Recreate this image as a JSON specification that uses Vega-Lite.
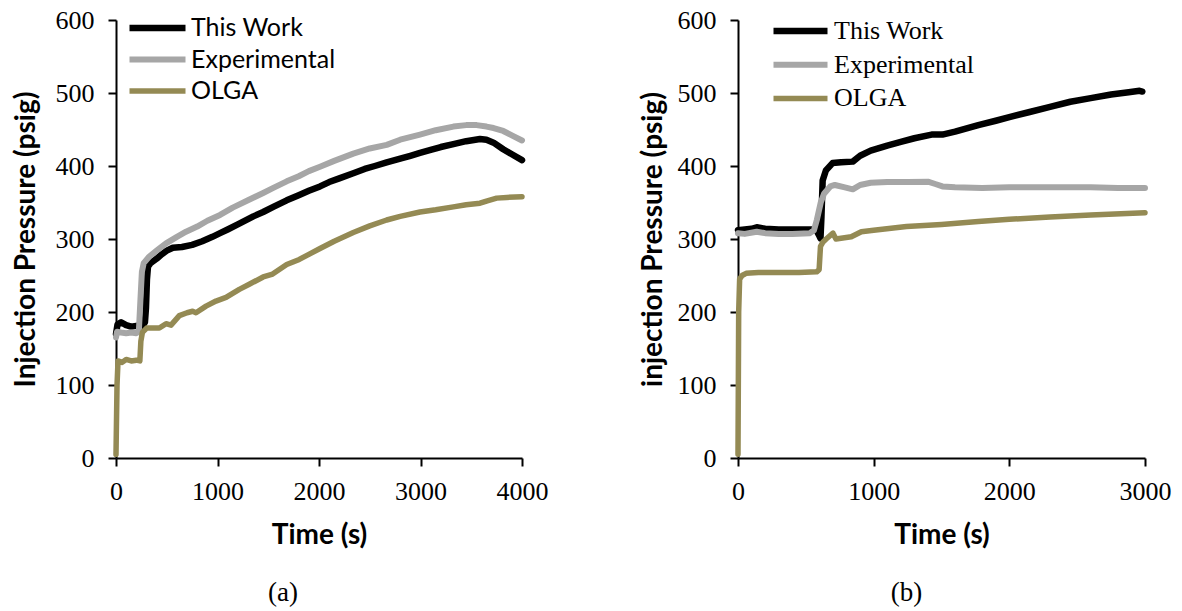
{
  "$schema": "https://vega.github.io/schema/vega-lite/v6.json",
  "background": "white",
  "padding": {"left": 12, "top": 7, "right": 5, "bottom": 5},
  "spacing": 216,
  "bounds": "flush",
  "config": {
    "view": {"stroke": null},
    "axis": {"domainColor": "black", "domainWidth": 2, "tickColor": "black", "tickWidth": 2, "tickSize": 8, "grid": false, "labelFont": "Liberation Serif", "labelFontSize": 26, "labelColor": "black", "titleFont": "Lato", "titleFontWeight": "bold", "titleFontSize": 28, "titleColor": "black", "labelOverlap": false, "format": "d"},
    "axisX": {"labelPadding": 12, "titlePadding": 17, "labelFlush": false},
    "axisY": {"labelPadding": 14, "titlePadding": 10},
    "title": {"font": "Liberation Serif", "fontSize": 27, "fontWeight": "normal", "color": "black"}
  },
  "resolve": {"scale": {"color": "independent", "strokeWidth": "independent"}, "legend": {"color": "independent"}},
  "datasets": {
    "a": [
      {"s":"This Work","t":0,"p":170},{"s":"This Work","t":15,"p":183},{"s":"This Work","t":50,"p":186},{"s":"This Work","t":100,"p":182},{"s":"This Work","t":150,"p":180},{"s":"This Work","t":200,"p":181},{"s":"This Work","t":260,"p":180},{"s":"This Work","t":285,"p":186},{"s":"This Work","t":295,"p":205},{"s":"This Work","t":305,"p":245},{"s":"This Work","t":315,"p":262},{"s":"This Work","t":340,"p":267},{"s":"This Work","t":400,"p":273},{"s":"This Work","t":450,"p":279},{"s":"This Work","t":500,"p":284},{"s":"This Work","t":560,"p":288},{"s":"This Work","t":650,"p":289},{"s":"This Work","t":750,"p":292},{"s":"This Work","t":850,"p":297},{"s":"This Work","t":950,"p":303},{"s":"This Work","t":1025,"p":308},{"s":"This Work","t":1100,"p":313},{"s":"This Work","t":1200,"p":320},{"s":"This Work","t":1353,"p":331},{"s":"This Work","t":1450,"p":337},{"s":"This Work","t":1550,"p":344},{"s":"This Work","t":1682,"p":353},{"s":"This Work","t":1800,"p":360},{"s":"This Work","t":1900,"p":366},{"s":"This Work","t":2010,"p":372},{"s":"This Work","t":2100,"p":378},{"s":"This Work","t":2200,"p":383},{"s":"This Work","t":2338,"p":390},{"s":"This Work","t":2450,"p":396},{"s":"This Work","t":2550,"p":400},{"s":"This Work","t":2667,"p":405},{"s":"This Work","t":2800,"p":410},{"s":"This Work","t":2900,"p":414},{"s":"This Work","t":2995,"p":418},{"s":"This Work","t":3100,"p":422},{"s":"This Work","t":3200,"p":426},{"s":"This Work","t":3324,"p":430},{"s":"This Work","t":3450,"p":434},{"s":"This Work","t":3586,"p":437},{"s":"This Work","t":3650,"p":436},{"s":"This Work","t":3720,"p":432},{"s":"This Work","t":3815,"p":423},{"s":"This Work","t":3900,"p":416},{"s":"This Work","t":4000,"p":408},
      {"s":"Experimental","t":0,"p":165},{"s":"Experimental","t":10,"p":173},{"s":"Experimental","t":50,"p":172},{"s":"Experimental","t":100,"p":171},{"s":"Experimental","t":150,"p":172},{"s":"Experimental","t":200,"p":171},{"s":"Experimental","t":225,"p":173},{"s":"Experimental","t":240,"p":215},{"s":"Experimental","t":255,"p":255},{"s":"Experimental","t":273,"p":267},{"s":"Experimental","t":328,"p":276},{"s":"Experimental","t":400,"p":284},{"s":"Experimental","t":493,"p":294},{"s":"Experimental","t":600,"p":303},{"s":"Experimental","t":690,"p":310},{"s":"Experimental","t":800,"p":317},{"s":"Experimental","t":900,"p":325},{"s":"Experimental","t":1025,"p":333},{"s":"Experimental","t":1150,"p":343},{"s":"Experimental","t":1300,"p":353},{"s":"Experimental","t":1450,"p":363},{"s":"Experimental","t":1550,"p":370},{"s":"Experimental","t":1682,"p":379},{"s":"Experimental","t":1800,"p":386},{"s":"Experimental","t":1900,"p":393},{"s":"Experimental","t":2010,"p":399},{"s":"Experimental","t":2150,"p":407},{"s":"Experimental","t":2338,"p":417},{"s":"Experimental","t":2500,"p":424},{"s":"Experimental","t":2667,"p":429},{"s":"Experimental","t":2800,"p":436},{"s":"Experimental","t":2995,"p":443},{"s":"Experimental","t":3150,"p":449},{"s":"Experimental","t":3324,"p":454},{"s":"Experimental","t":3450,"p":456},{"s":"Experimental","t":3553,"p":456},{"s":"Experimental","t":3650,"p":454},{"s":"Experimental","t":3720,"p":452},{"s":"Experimental","t":3815,"p":448},{"s":"Experimental","t":3900,"p":442},{"s":"Experimental","t":4000,"p":435},
      {"s":"OLGA","t":0,"p":5},{"s":"OLGA","t":10,"p":100},{"s":"OLGA","t":20,"p":133},{"s":"OLGA","t":60,"p":131},{"s":"OLGA","t":100,"p":135},{"s":"OLGA","t":150,"p":133},{"s":"OLGA","t":200,"p":134},{"s":"OLGA","t":235,"p":133},{"s":"OLGA","t":245,"p":160},{"s":"OLGA","t":260,"p":172},{"s":"OLGA","t":302,"p":178},{"s":"OLGA","t":427,"p":178},{"s":"OLGA","t":493,"p":184},{"s":"OLGA","t":542,"p":182},{"s":"OLGA","t":624,"p":195},{"s":"OLGA","t":700,"p":199},{"s":"OLGA","t":755,"p":201},{"s":"OLGA","t":788,"p":199},{"s":"OLGA","t":887,"p":208},{"s":"OLGA","t":985,"p":215},{"s":"OLGA","t":1084,"p":220},{"s":"OLGA","t":1215,"p":231},{"s":"OLGA","t":1313,"p":238},{"s":"OLGA","t":1450,"p":248},{"s":"OLGA","t":1543,"p":252},{"s":"OLGA","t":1682,"p":265},{"s":"OLGA","t":1806,"p":272},{"s":"OLGA","t":1900,"p":279},{"s":"OLGA","t":2010,"p":287},{"s":"OLGA","t":2150,"p":297},{"s":"OLGA","t":2338,"p":309},{"s":"OLGA","t":2500,"p":318},{"s":"OLGA","t":2667,"p":326},{"s":"OLGA","t":2800,"p":331},{"s":"OLGA","t":2995,"p":337},{"s":"OLGA","t":3150,"p":340},{"s":"OLGA","t":3324,"p":344},{"s":"OLGA","t":3450,"p":347},{"s":"OLGA","t":3586,"p":349},{"s":"OLGA","t":3650,"p":352},{"s":"OLGA","t":3750,"p":356},{"s":"OLGA","t":3850,"p":357},{"s":"OLGA","t":4000,"p":358}
    ],
    "b": [
      {"s":"This Work","t":0,"p":312},{"s":"This Work","t":50,"p":313},{"s":"This Work","t":100,"p":314},{"s":"This Work","t":138,"p":316},{"s":"This Work","t":200,"p":314},{"s":"This Work","t":300,"p":313},{"s":"This Work","t":400,"p":313},{"s":"This Work","t":530,"p":313},{"s":"This Work","t":575,"p":313},{"s":"This Work","t":595,"p":306},{"s":"This Work","t":608,"p":301},{"s":"This Work","t":615,"p":330},{"s":"This Work","t":624,"p":380},{"s":"This Work","t":648,"p":394},{"s":"This Work","t":697,"p":404},{"s":"This Work","t":760,"p":405},{"s":"This Work","t":846,"p":406},{"s":"This Work","t":900,"p":414},{"s":"This Work","t":978,"p":421},{"s":"This Work","t":1100,"p":428},{"s":"This Work","t":1200,"p":433},{"s":"This Work","t":1300,"p":438},{"s":"This Work","t":1427,"p":443},{"s":"This Work","t":1507,"p":443},{"s":"This Work","t":1600,"p":447},{"s":"This Work","t":1771,"p":456},{"s":"This Work","t":1900,"p":462},{"s":"This Work","t":2000,"p":467},{"s":"This Work","t":2150,"p":474},{"s":"This Work","t":2300,"p":481},{"s":"This Work","t":2450,"p":488},{"s":"This Work","t":2600,"p":493},{"s":"This Work","t":2750,"p":498},{"s":"This Work","t":2880,"p":501},{"s":"This Work","t":2960,"p":503},{"s":"This Work","t":2980,"p":502},
      {"s":"Experimental","t":0,"p":308},{"s":"Experimental","t":50,"p":307},{"s":"Experimental","t":138,"p":310},{"s":"Experimental","t":200,"p":308},{"s":"Experimental","t":300,"p":307},{"s":"Experimental","t":400,"p":307},{"s":"Experimental","t":530,"p":308},{"s":"Experimental","t":560,"p":312},{"s":"Experimental","t":581,"p":326},{"s":"Experimental","t":610,"p":350},{"s":"Experimental","t":634,"p":362},{"s":"Experimental","t":680,"p":372},{"s":"Experimental","t":714,"p":374},{"s":"Experimental","t":780,"p":371},{"s":"Experimental","t":846,"p":368},{"s":"Experimental","t":900,"p":374},{"s":"Experimental","t":978,"p":377},{"s":"Experimental","t":1100,"p":378},{"s":"Experimental","t":1250,"p":378},{"s":"Experimental","t":1400,"p":378.5},{"s":"Experimental","t":1460,"p":375},{"s":"Experimental","t":1507,"p":372},{"s":"Experimental","t":1600,"p":371},{"s":"Experimental","t":1800,"p":370},{"s":"Experimental","t":2000,"p":371},{"s":"Experimental","t":2200,"p":371},{"s":"Experimental","t":2400,"p":371},{"s":"Experimental","t":2600,"p":371},{"s":"Experimental","t":2800,"p":370},{"s":"Experimental","t":3000,"p":370},
      {"s":"OLGA","t":0,"p":5},{"s":"OLGA","t":5,"p":200},{"s":"OLGA","t":12,"p":245},{"s":"OLGA","t":30,"p":250},{"s":"OLGA","t":60,"p":253},{"s":"OLGA","t":150,"p":254},{"s":"OLGA","t":300,"p":254},{"s":"OLGA","t":450,"p":254},{"s":"OLGA","t":580,"p":255},{"s":"OLGA","t":598,"p":258},{"s":"OLGA","t":608,"p":290},{"s":"OLGA","t":627,"p":296},{"s":"OLGA","t":650,"p":300},{"s":"OLGA","t":700,"p":308},{"s":"OLGA","t":722,"p":300},{"s":"OLGA","t":760,"p":301},{"s":"OLGA","t":835,"p":303},{"s":"OLGA","t":909,"p":310},{"s":"OLGA","t":1000,"p":312},{"s":"OLGA","t":1242,"p":317},{"s":"OLGA","t":1500,"p":320},{"s":"OLGA","t":1771,"p":324},{"s":"OLGA","t":2000,"p":327},{"s":"OLGA","t":2300,"p":330},{"s":"OLGA","t":2600,"p":333},{"s":"OLGA","t":3000,"p":336}
    ]
  },
  "hconcat": [
    {
      "data": {"name": "a"},
      "width": 406,
      "height": 438,
      "title": {"text": "(a)", "orient": "bottom", "offset": 31, "dx": -36},
      "mark": {"type": "line", "strokeCap": "round", "strokeJoin": "round"},
      "encoding": {
        "x": {"field": "t", "type": "quantitative", "title": "Time (s)", "scale": {"domain": [0, 4000], "nice": false}, "axis": {"values": [0, 1000, 2000, 3000, 4000]}},
        "y": {"field": "p", "type": "quantitative", "title": "Injection Pressure (psig)", "scale": {"domain": [0, 600], "nice": false}, "axis": {"values": [0, 100, 200, 300, 400, 500, 600], "titlePadding": 15}},
        "color": {"field": "s", "type": "nominal", "sort": null, "scale": {"domain": ["This Work", "Experimental", "OLGA"], "range": ["#000000", "#a6a6a6", "#948a54"]},
          "legend": {"title": null, "orient": "none", "legendX": 10, "legendY": -4, "padding": 0, "symbolType": "stroke", "symbolSize": 3136, "symbolStrokeWidth": 6, "clipHeight": 24, "rowPadding": 6.5, "labelOffset": 2, "labelFont": "Lato", "labelFontSize": 25, "labelColor": "black", "labelLimit": 400}},
        "strokeWidth": {"field": "s", "type": "nominal", "scale": {"domain": ["This Work", "Experimental", "OLGA"], "range": [6.5, 5.5, 5.5]}, "legend": null}
      }
    },
    {
      "data": {"name": "b"},
      "width": 407,
      "height": 438,
      "title": {"text": "(b)", "orient": "bottom", "offset": 31, "dx": -35},
      "mark": {"type": "line", "strokeCap": "round", "strokeJoin": "round"},
      "encoding": {
        "x": {"field": "t", "type": "quantitative", "title": "Time (s)", "scale": {"domain": [0, 3000], "nice": false}, "axis": {"values": [0, 1000, 2000, 3000]}},
        "y": {"field": "p", "type": "quantitative", "title": "injection Pressure (psig)", "scale": {"domain": [0, 600], "nice": false}, "axis": {"values": [0, 100, 200, 300, 400, 500, 600]}},
        "color": {"field": "s", "type": "nominal", "sort": null, "scale": {"domain": ["This Work", "Experimental", "OLGA"], "range": ["#000000", "#a6a6a6", "#948a54"]},
          "legend": {"title": null, "orient": "none", "legendX": 32, "legendY": -1, "padding": 0, "symbolType": "stroke", "symbolSize": 2916, "symbolStrokeWidth": 6, "clipHeight": 24, "rowPadding": 7.7, "labelOffset": 3, "labelFont": "Liberation Serif", "labelFontSize": 26, "labelColor": "black", "labelLimit": 400}},
        "strokeWidth": {"field": "s", "type": "nominal", "scale": {"domain": ["This Work", "Experimental", "OLGA"], "range": [6.5, 5.5, 5.5]}, "legend": null}
      }
    }
  ]
}
